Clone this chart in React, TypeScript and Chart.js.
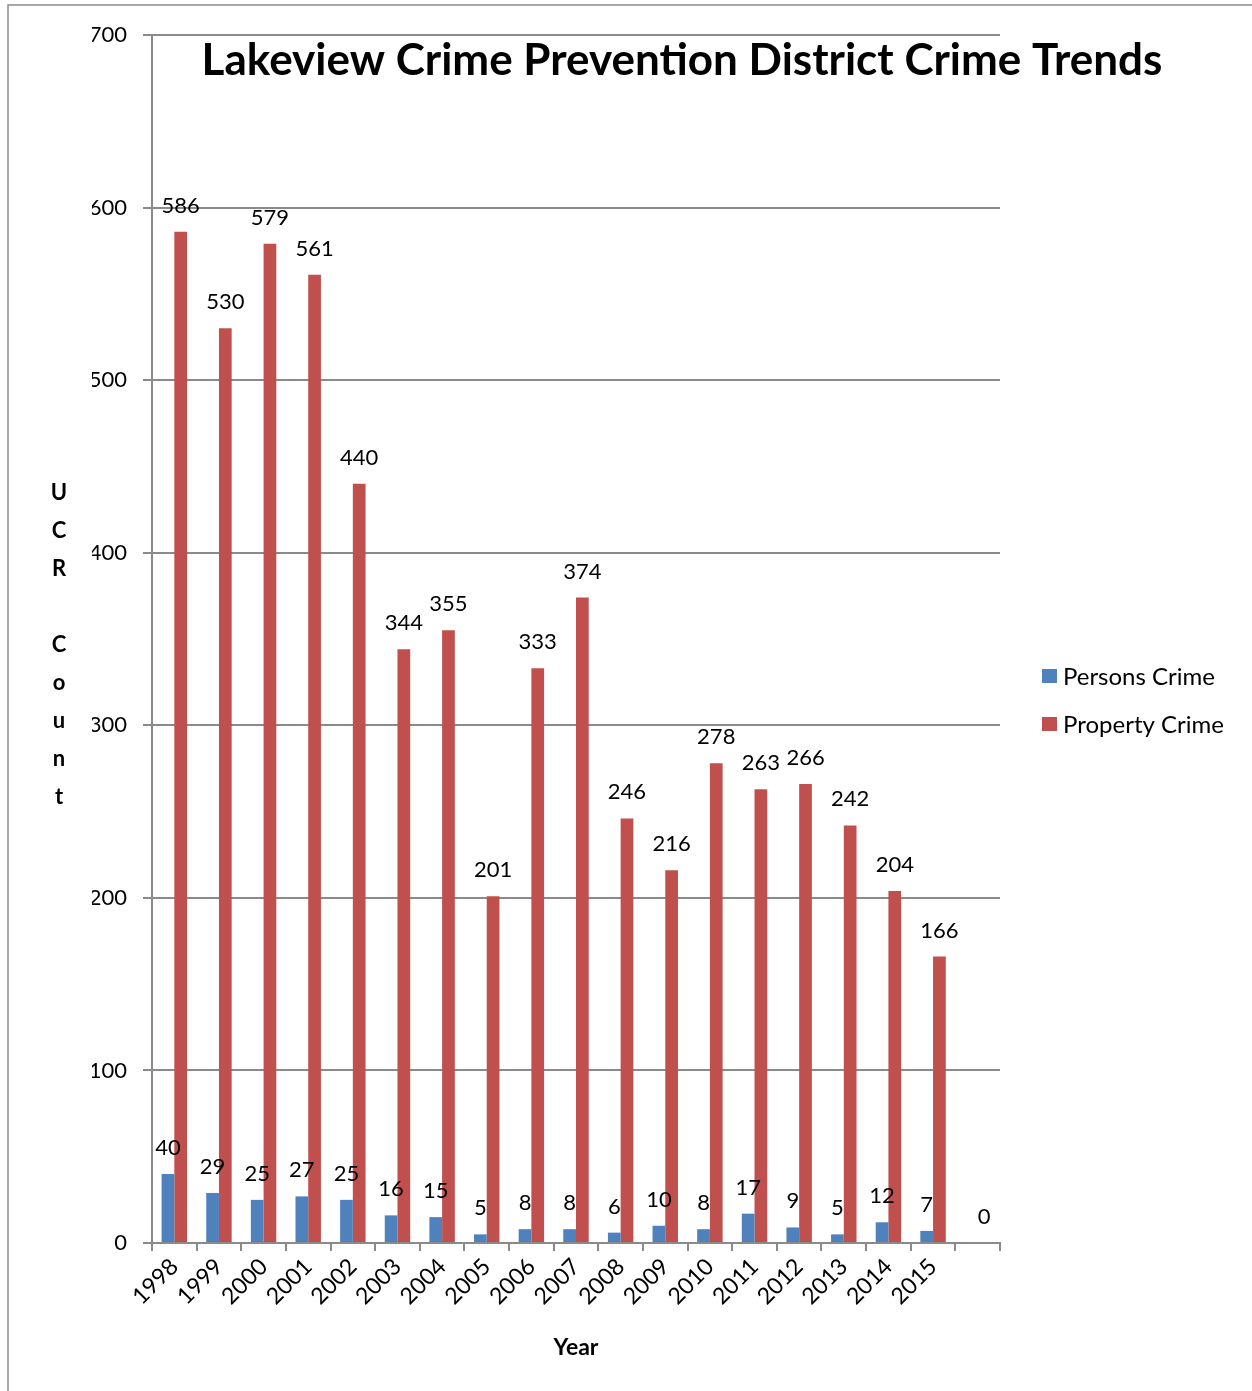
import React, { useEffect, useRef } from "react";
import { Chart, registerables } from "chart.js";

Chart.register(...registerables);

const categories = [
  "1998", "1999", "2000", "2001", "2002", "2003", "2004", "2005", "2006",
  "2007", "2008", "2009", "2010", "2011", "2012", "2013", "2014", "2015", "",
];
const personsCrime = [40, 29, 25, 27, 25, 16, 15, 5, 8, 8, 6, 10, 8, 17, 9, 5, 12, 7, null];
const propertyCrime = [586, 530, 579, 561, 440, 344, 355, 201, 333, 374, 246, 216, 278, 263, 266, 242, 204, 166, 0];
const seriesNames = ["Persons Crime", "Property Crime"];
const seriesColors = ["#4F81BD", "#C0504D"];
const chartTitle = "Lakeview Crime Prevention District Crime Trends";
const yAxisTitle = "UCR Count";
const xAxisTitle = "Year";
const yMax = 700;
const yStep = 100;

const FONT = "Lato, 'Open Sans', sans-serif";
const GRID = "#8a8a8a";

const decorPlugin = {
  id: "decor",
  beforeDraw(chart: any) {
    const ctx = chart.ctx;
    ctx.save();
    ctx.strokeStyle = "#8c8c8c";
    ctx.lineWidth = 1.5;
    ctx.beginPath();
    ctx.moveTo(8, chart.height + 5);
    ctx.lineTo(8, 5);
    ctx.lineTo(chart.width + 5, 5);
    ctx.stroke();
    ctx.restore();
  },
  afterDraw(chart: any) {
    const ctx = chart.ctx;
    const area = chart.chartArea;
    ctx.save();
    // title
    ctx.fillStyle = "#000";
    ctx.font = `bold 44px ${FONT}`;
    ctx.textAlign = "center";
    ctx.textBaseline = "middle";
    ctx.fillText(chartTitle, 682, 61);
    // y axis title (stacked letters)
    ctx.font = `bold 22px ${FONT}`;
    const letters = yAxisTitle.split("");
    const midY = (area.top + area.bottom) / 2 + 6;
    const gap = 37.9;
    letters.forEach((ch, i) => {
      const y = midY + (i - (letters.length - 1) / 2) * gap;
      ctx.fillText(ch, 59, y);
    });
    // legend
    const legendX = 1042;
    const legendYs = [676, 724];
    ctx.font = `24px ${FONT}`;
    ctx.textAlign = "left";
    seriesNames.forEach((name, i) => {
      ctx.fillStyle = seriesColors[i];
      ctx.fillRect(legendX, legendYs[i] - 7, 15, 14);
      ctx.fillStyle = "#000";
      ctx.fillText(name, legendX + 21, legendYs[i] + 1);
    });
    ctx.restore();
  },
  afterDatasetsDraw(chart: any) {
    const ctx = chart.ctx;
    ctx.save();
    ctx.fillStyle = "#000";
    ctx.font = `22px ${FONT}`;
    ctx.textAlign = "center";
    ctx.textBaseline = "alphabetic";
    chart.data.datasets.forEach((ds: any, di: number) => {
      const meta = chart.getDatasetMeta(di);
      meta.data.forEach((el: any, i: number) => {
        const v = ds.data[i];
        if (v === null || v === undefined) return;
        ctx.fillText(String(v), el.x, el.y - 19);
      });
    });
    ctx.restore();
  },
};

export default function App() {
  const ref = useRef<HTMLCanvasElement | null>(null);
  useEffect(() => {
    if (!ref.current) return;
    const chart = new Chart(ref.current, {
      type: "bar",
      data: {
        labels: categories,
        datasets: [
          {
            label: seriesNames[0],
            data: personsCrime,
            backgroundColor: seriesColors[0],
            barPercentage: 1,
            categoryPercentage: 0.57,
          },
          {
            label: seriesNames[1],
            data: propertyCrime,
            backgroundColor: seriesColors[1],
            barPercentage: 1,
            categoryPercentage: 0.57,
          },
        ],
      },
      options: {
        responsive: false,
        animation: false,
        devicePixelRatio: 1,
        layout: { padding: { left: 92, top: 35, right: 252, bottom: 0 } },
        plugins: {
          legend: { display: false },
          title: { display: false },
          tooltip: { enabled: false },
        },
        scales: {
          x: {
            type: "category",
            offset: true,
            grid: {
              display: true,
              drawOnChartArea: false,
              drawTicks: true,
              tickLength: 8,
              color: GRID,
              lineWidth: 2,
              offset: true,
            },
            border: { display: true, color: GRID, width: 2 },
            ticks: {
              minRotation: 45,
              maxRotation: 45,
              autoSkip: false,
              color: "#000",
              padding: 2,
              font: { family: FONT, size: 23 },
            },
            title: {
              display: true,
              text: xAxisTitle,
              color: "#000",
              font: { family: FONT, size: 23, weight: "bold" },
              padding: { top: 0, bottom: 30 },
            },
            afterFit: (s: any) => {
              s.height = 148;
            },
          },
          y: {
            min: 0,
            max: yMax,
            grid: { color: GRID, lineWidth: 2, tickLength: 9 },
            border: { display: true, color: GRID, width: 2 },
            ticks: {
              stepSize: yStep,
              color: "#000",
              padding: 16,
              font: { family: FONT, size: 22 },
            },
            afterFit: (s: any) => {
              s.width = 60;
            },
          },
        },
      },
      plugins: [decorPlugin],
    });
    return () => chart.destroy();
  }, []);
  return (
    <div style={{ position: "absolute", left: 0, top: 0, width: 1252, height: 1391, background: "#fff" }}>
      <canvas ref={ref} width={1252} height={1391} style={{ display: "block" }} />
    </div>
  );
}
